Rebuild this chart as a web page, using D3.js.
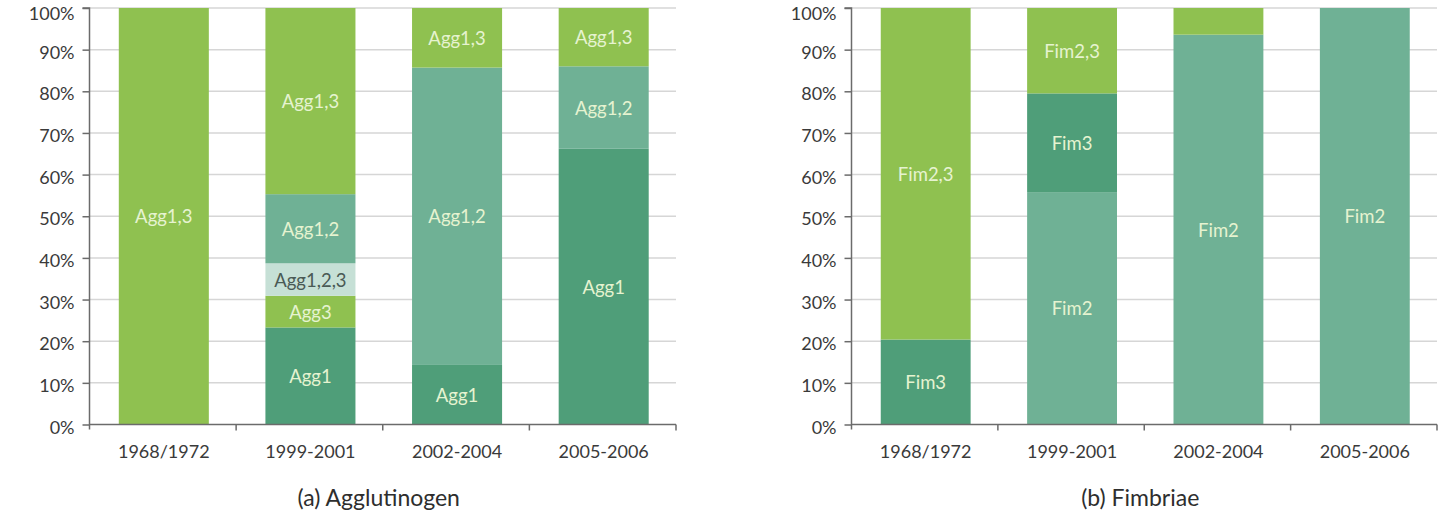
<!DOCTYPE html>
<html>
<head>
<meta charset="utf-8">
<script src="https://cdn.jsdelivr.net/npm/d3@7"></script>
<style>
  html, body { margin: 0; padding: 0; background: #fff; }
  svg text { font-family: Lato, "Open Sans", sans-serif; }
</style>
</head>
<body>
<svg id="chart" width="1446" height="513"></svg>
<script>
// Periods on the x axis (shared by both panels)
const categories = ["1968/1972", "1999-2001", "2002-2004", "2005-2006"];
const yTicks = [0, 10, 20, 30, 40, 50, 60, 70, 80, 90, 100];

// (a) Agglutinogen serotypes, percent of isolates per period
const aggKeys = ["Agg1", "Agg3", "Agg1,2,3", "Agg1,2", "Agg1,3"];
const agg1   = [0, 23.3, 14.3, 66.2];
const agg3   = [0, 7.6, 0, 0];
const agg123 = [0, 7.8, 0, 0];
const agg12  = [0, 16.6, 71.4, 19.8];
const agg13  = [100, 44.7, 14.3, 14.0];

// (b) Fimbriae serotypes, percent of isolates per period
const fimKeys = ["Fim2", "Fim3", "Fim2,3"];
const fim2  = [0, 55.8, 93.6, 100];
const fim3  = [20.4, 23.7, 0, 0];
const fim23 = [79.6, 20.5, 6.4, 0];

const colors = {
  "Agg1": "#4f9e79", "Agg3": "#8fc150", "Agg1,2,3": "#c6e0d6",
  "Agg1,2": "#6fb195", "Agg1,3": "#8fc150",
  "Fim3": "#4f9e79", "Fim2": "#6fb195", "Fim2,3": "#8fc150"
};
const labelColors = {
  "Agg1,2,3": "#4a5a55"
};
const defaultLabel = "#e6f3d0";

const panels = [
  {
    title: "(a) Agglutinogen", keys: aggKeys,
    series: { "Agg1": agg1, "Agg3": agg3, "Agg1,2,3": agg123, "Agg1,2": agg12, "Agg1,3": agg13 },
    x0: 89.5, x1: 676
  },
  {
    title: "(b) Fimbriae", keys: fimKeys,
    series: { "Fim2": fim2, "Fim3": fim3, "Fim2,3": fim23 },
    x0: 851.5, x1: 1437
  }
];

const svg = d3.select("#chart");
const plotTop = 8, plotBottom = 424.5;
const axisColor = "#6b6b6b";
const textColor = "#3a3a3a";

panels.forEach(p => {
  const g = svg.append("g");
  const x = d3.scaleBand().domain(categories).range([p.x0, p.x1]).paddingInner(0.386).paddingOuter(0.193);
  const y = d3.scaleLinear().domain([0, 100]).range([plotBottom, plotTop]);

  // horizontal gridlines
  g.append("g").selectAll("line").data(yTicks.filter(t => t > 0)).join("line")
    .attr("x1", p.x0).attr("x2", p.x1)
    .attr("y1", d => y(d)).attr("y2", d => y(d))
    .attr("stroke", "#d6d6d6").attr("stroke-width", 1.5);

  // stacked bars
  const rows = categories.map((c, i) => {
    const r = { cat: c };
    p.keys.forEach(k => r[k] = p.series[k][i]);
    return r;
  });
  const stacked = d3.stack().keys(p.keys)(rows);
  stacked.forEach(layer => {
    const key = layer.key;
    g.append("g").selectAll("rect").data(layer).join("rect")
      .attr("x", d => x(d.data.cat) + 1)
      .attr("width", x.bandwidth())
      .attr("y", d => y(d[1]))
      .attr("height", d => y(d[0]) - y(d[1]))
      .attr("fill", colors[key]);
    g.append("g").selectAll("text").data(layer.filter(d => d[1] - d[0] >= 7)).join("text")
      .attr("x", d => x(d.data.cat) + 1 + x.bandwidth() / 2)
      .attr("y", d => y((d[0] + d[1]) / 2))
      .attr("text-anchor", "middle")
      .attr("dominant-baseline", "central")
      .attr("font-size", 18.5)
      .attr("fill", labelColors[key] || defaultLabel)
      .text(key);
  });

  // y axis
  const yAxis = d3.axisLeft(y).tickValues(yTicks).tickFormat(d => d + "%").tickSize(7).tickPadding(8);
  const ya = g.append("g").attr("transform", `translate(${p.x0},0)`).call(yAxis);
  ya.select(".domain").attr("stroke", axisColor).attr("stroke-width", 1.5).attr("d", `M-7,${plotTop}H0V${plotBottom + 5}`);
  ya.selectAll(".tick line").attr("stroke", axisColor).attr("stroke-width", 1.5);
  ya.selectAll(".tick text").attr("font-size", 18).attr("fill", textColor)
    .attr("dy", d => d === 100 ? "0.62em" : "0.48em")
    .style("font-family", "Lato, sans-serif");

  // x axis with ticks at the band boundaries
  const bounds = d3.range(categories.length + 1).map(i => p.x0 + i * (p.x1 - p.x0) / categories.length);
  const xa = g.append("g");
  xa.append("line").attr("x1", p.x0).attr("x2", p.x1).attr("y1", plotBottom).attr("y2", plotBottom)
    .attr("stroke", axisColor).attr("stroke-width", 1.5);
  xa.selectAll(".bt").data(bounds.slice(1)).join("line").attr("class", "bt")
    .attr("x1", d => d).attr("x2", d => d).attr("y1", plotBottom).attr("y2", plotBottom + 6)
    .attr("stroke", axisColor).attr("stroke-width", 1.5);
  xa.selectAll("text.cat").data(categories).join("text").attr("class", "cat")
    .attr("x", d => x(d) + 1 + x.bandwidth() / 2)
    .attr("y", 451)
    .attr("text-anchor", "middle")
    .attr("dominant-baseline", "central")
    .attr("font-size", 18)
    .attr("fill", textColor)
    .text(d => d);

  // panel caption
  g.append("text")
    .attr("x", (p.x0 + p.x1) / 2 - 4)
    .attr("y", 497)
    .attr("text-anchor", "middle")
    .attr("dominant-baseline", "central")
    .attr("font-size", 23)
    .attr("fill", "#2e2e2e")
    .text(p.title);
});
</script>
</body>
</html>
